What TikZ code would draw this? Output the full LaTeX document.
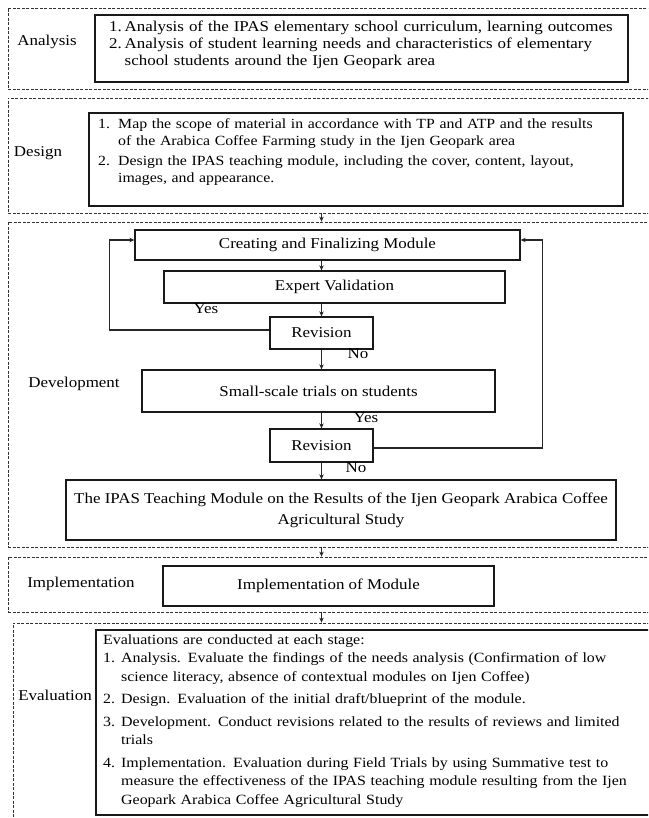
\documentclass[tikz,border=0pt]{standalone}
\usepackage{fontspec}
\setmainfont{Liberation Serif}[FakeStretch=1.13]
\usetikzlibrary{arrows.meta,calc}
\begin{document}
\begin{tikzpicture}[x=1pt,y=-1pt,
  outerbox/.style={rectangle,draw=black!80,line width=0.8pt,dash pattern=on 3pt off 1.5pt,inner sep=0pt},
  solidbox/.style={rectangle,draw=black!90,line width=1.3pt,inner sep=0pt,align=center,font=\fontsize{15}{21}\selectfont},
  lbl/.style={inner sep=0pt,font=\fontsize{15}{17}\selectfont},
  para/.style={inner sep=0pt,anchor=base west,align=left,font=\fontsize{15}{17}\selectfont},
  arr/.style={draw=black!85,line width=1pt,-{Stealth[length=5pt,width=4.5pt]}},
  fbline/.style={draw=black!85,line width=1.1pt,-{Stealth[length=5pt,width=4.5pt]}}]
\clip (0,0) rectangle (648,818);
\fill[white] (0,0) rectangle (648,818);

% ---------- Analysis ----------
\node[outerbox,minimum width=652pt,minimum height=81pt] (anaO) at (334,48.5) {};
\node[solidbox,minimum width=533pt,minimum height=67pt] (anaI) at (361.5,48.5) {};
\node[lbl] (anaL) at (47,42) {Analysis};
\node[para,text width=540pt] (anaT) at (109,32) {%
\makebox[15.5pt][l]{1.}Analysis of the IPAS elementary school curriculum, learning outcomes\\
\makebox[15.5pt][l]{2.}\makebox[488pt][s]{Analysis of student learning needs and characteristics of elementary}\\
\hspace*{15.5pt}school students around the Ijen Geopark area};

% ---------- Design ----------
\node[outerbox,minimum width=652pt,minimum height=115pt] (desO) at (334,155.5) {};
\node[solidbox,minimum width=534pt,minimum height=93pt] (desI) at (356,159.5) {};
\node[lbl] (desL) at (38,153) {Design};
\node[para,text width=545pt,font=\fontsize{14}{17}\selectfont] (desT) at (98,129) {%
\makebox[20pt][l]{1.}\makebox[495pt][s]{Map the scope of material in accordance with TP and ATP and the results}\\
\hspace*{20pt}of the Arabica Coffee Farming study in the Ijen Geopark area\\[3pt]
\makebox[20pt][l]{2.}\makebox[495pt][s]{Design the IPAS teaching module, including the cover, content, layout,}\\
\hspace*{20pt}images, and appearance.};

% ---------- Development ----------
\node[outerbox,minimum width=652pt,minimum height=325pt] (devO) at (334,384.5) {};
\node[lbl] (devL) at (74,384) {Development};
\node[solidbox,minimum width=385pt,minimum height=30pt] (create) at (327.5,245) {Creating and Finalizing Module};
\node[solidbox,minimum width=341pt,minimum height=32pt] (expert) at (334.5,287) {Expert Validation};
\node[solidbox,minimum width=103pt,minimum height=32pt] (rev1) at (321.5,333) {Revision};
\node[solidbox,minimum width=353pt,minimum height=42pt] (small) at (318.5,391) {Small-scale trials on students};
\node[solidbox,minimum width=103pt,minimum height=33pt] (rev2) at (321.5,445.5) {Revision};
\node[solidbox,minimum width=550pt,minimum height=60pt] (result) at (341,510)
  {The IPAS Teaching Module on the Results of the Ijen Geopark Arabica Coffee\\Agricultural Study};
\node[lbl] (yes1) at (206,309) {Yes};
\node[lbl] (no1) at (358,354) {No};
\node[lbl] (yes2) at (366,418) {Yes};
\node[lbl] (no2) at (356,468) {No};

\draw[arr] (create.south -| rev1) -- (expert.north -| rev1);
\draw[arr] (expert.south -| rev1) -- (rev1.north);
\draw[arr] (rev1.south) -- (small.north -| rev1);
\draw[arr] (small.south -| rev1) -- (rev2.north);
\draw[arr] (rev2.south) -- (result.north -| rev2);
\draw[fbline] ([yshift=3pt]rev1.west) -| ([xshift=-25pt,yshift=5pt]create.west) -- ([yshift=5pt]create.west);
\draw[fbline] ([yshift=-2.5pt]rev2.east) -| ([xshift=22pt,yshift=5pt]create.east) -- ([yshift=5pt]create.east);

% ---------- Implementation ----------
\node[outerbox,minimum width=652pt,minimum height=55pt] (impO) at (334,584.5) {};
\node[lbl] (impL) at (81,584) {Implementation};
\node[solidbox,minimum width=331pt,minimum height=40pt] (impI) at (328.5,586) {Implementation of Module};

% ---------- Evaluation ----------
\node[outerbox,minimum width=647pt,minimum height=207pt] (evaO) at (336.5,726.5) {};
\node[solidbox,minimum width=564pt,minimum height=185pt] (evaI) at (378,722.5) {};
\node[lbl] (evaL) at (55,695) {Evaluation};
\node[para,text width=560pt,font=\fontsize{14.1}{18.5}\selectfont] (evaT) at (103,644) {%
Evaluations are conducted at each stage:\\
\makebox[18pt][l]{1.}Analysis. Evaluate the findings of the needs analysis (Confirmation of low\\
\hspace*{18pt}science literacy, absence of contextual modules on Ijen Coffee)\\[4pt]
\makebox[18pt][l]{2.}Design. Evaluation of the initial draft/blueprint of the module.\\[4pt]
\makebox[18pt][l]{3.}Development. Conduct revisions related to the results of reviews and limited\\
\hspace*{18pt}trials\\[4pt]
\makebox[18pt][l]{4.}Implementation. Evaluation during Field Trials by using Summative test to\\
\hspace*{18pt}measure the effectiveness of the IPAS teaching module resulting from the Ijen\\
\hspace*{18pt}Geopark Arabica Coffee Agricultural Study};

% ---------- section arrows ----------
\draw[arr] (desO.south -| rev1) -- (devO.north -| rev1);
\draw[arr] (devO.south -| rev1) -- (impO.north -| rev1);
\draw[arr] (impO.south -| rev1) -- (evaO.north -| rev1);
\end{tikzpicture}
\end{document}
